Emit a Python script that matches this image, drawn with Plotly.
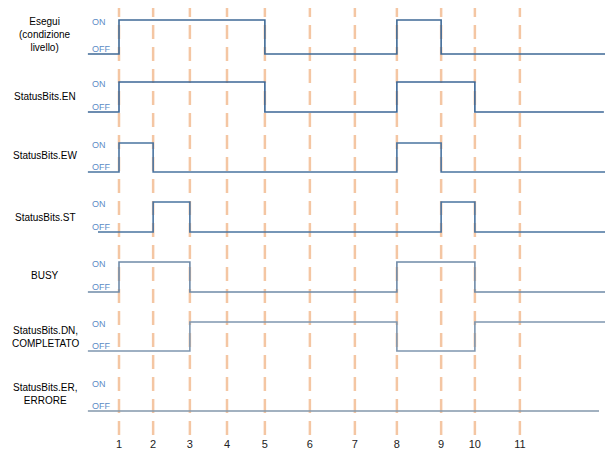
import plotly.graph_objects as go

# ---- data ----
tick_labels = ["1", "2", "3", "4", "5", "6", "7", "8", "9", "10", "11"]
tick_times = [1.0, 1.91, 2.89, 3.88, 4.89, 6.09, 7.29, 8.41, 9.59, 10.49, 11.69]

signal_names = [
    "Esegui<br>(condizione<br>livello)",
    "StatusBits.EN",
    "StatusBits.EW",
    "StatusBits.ST",
    "BUSY",
    "StatusBits.DN,<br>COMPLETATO",
    "StatusBits.ER,<br>ERRORE",
]
# edges given as tick indices (1-based); every signal starts OFF and toggles at each edge
esegui_edges = [1, 5, 8, 9]
en_edges = [1, 5, 8, 10]
ew_edges = [1, 2, 8, 9]
st_edges = [2, 3, 9, 10]
busy_edges = [1, 3, 8, 10]
dn_edges = [3, 8, 10]
er_edges = []
all_edges = [esegui_edges, en_edges, ew_edges, st_edges, busy_edges, dn_edges, er_edges]
start_times = [0.17, 0.17, 0.17, 0.44, 0.17, 0.17, 0.17]
end_times = [14.07, 13.93, 14.09, 13.99, 14.0, 14.09, 13.8]

# ---- layout helpers (pixel-like vertical units; page has an 8px body offset) ----
OFS = 8
on_levels = [v - OFS for v in [20, 82, 143, 202, 262, 322, 382]]
off_levels = [v - OFS for v in [54, 112, 172, 232, 292, 351, 411]]
label_y = [v - OFS for v in [34, 96, 155, 217, 275, 337, 394]]
line_colors = ["#3f6a96", "#3c6797", "#4a74a0", "#4a74a0", "#6f8aa8", "#7f97b0", "#8397ab"]

W, H = 613, 452
PX_PER_T = 37.5
X1_PX = 119 - OFS
PLOT_BOTTOM = 428

fig = go.Figure()

for i, edges in enumerate(all_edges):
    xs = [start_times[i]]
    states = [0]
    s = 0
    for e in edges:
        s = 1 - s
        xs.append(tick_times[e - 1])
        states.append(s)
    xs.append(end_times[i])
    states.append(s)
    ys = [on_levels[i] if st else off_levels[i] for st in states]
    fig.add_trace(go.Scatter(
        x=xs, y=ys, mode="lines", line=dict(shape="hv", color=line_colors[i], width=1.6),
        hoverinfo="skip", showlegend=False))

# dashed vertical markers
for t in tick_times:
    fig.add_shape(type="line", x0=t, x1=t, y0=-5, y1=PLOT_BOTTOM, xref="x", yref="y",
                  line=dict(color="#f4c6a3", width=2.5, dash="14px,8px"), layer="below")

font_main = "Liberation Sans, Arial, sans-serif"
annotations = []
for i, name in enumerate(signal_names):
    annotations.append(dict(
        x=(45 - OFS) / W, xref="paper", y=label_y[i], yref="y", text=name, showarrow=False,
        xanchor="center", yanchor="middle", align="center",
        font=dict(family=font_main, size=10, color="#000000")))
    annotations.append(dict(
        x=(90 - OFS) / W, xref="paper", y=on_levels[i] + 2, yref="y", text="ON", showarrow=False,
        xanchor="left", yanchor="middle",
        font=dict(family=font_main, size=9, color="#5b8cc6")))
    annotations.append(dict(
        x=(90 - OFS) / W, xref="paper", y=off_levels[i] - 5, yref="y", text="OFF", showarrow=False,
        xanchor="left", yanchor="middle",
        font=dict(family=font_main, size=9, color="#5b8cc6")))

fig.update_layout(
    width=W, height=H,
    margin=dict(l=0, r=0, t=0, b=H - PLOT_BOTTOM),
    paper_bgcolor="white", plot_bgcolor="white",
    annotations=annotations,
    xaxis=dict(range=[1 - X1_PX / PX_PER_T, 1 + (W - X1_PX) / PX_PER_T], showgrid=False,
               zeroline=False, showline=False, tickmode="array", tickvals=tick_times,
               ticktext=tick_labels, ticks="",
               tickfont=dict(family=font_main, size=11, color="#222222"), fixedrange=True),
    yaxis=dict(range=[PLOT_BOTTOM, 0], visible=False, fixedrange=True),
)

fig.write_html("out.html")
